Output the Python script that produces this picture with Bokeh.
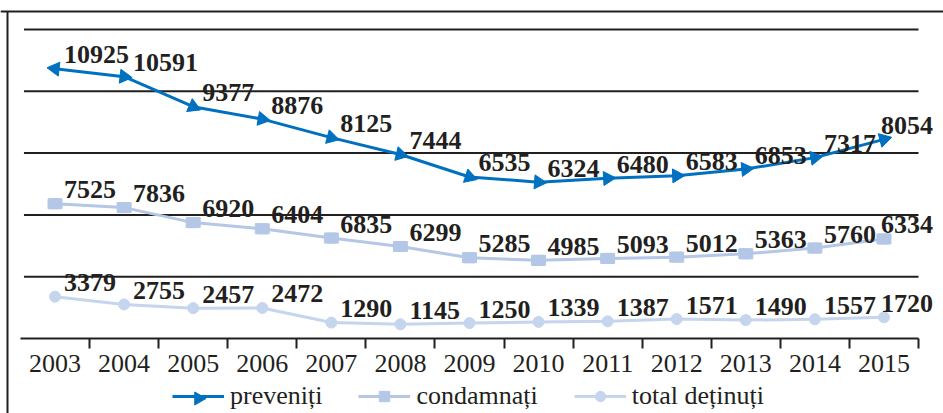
import math
from bokeh.plotting import figure
from bokeh.models import (LinearAxis, FixedTicker, Range1d, Span, Legend, LegendItem,
                          ColumnDataSource)
from bokeh.core.properties import value
from bokeh.embed import file_html
from bokeh.resources import INLINE

# ---------------- data ----------------
years = [2003, 2004, 2005, 2006, 2007, 2008, 2009, 2010, 2011, 2012, 2013, 2014, 2015]
preveniti = [10925, 10591, 9377, 8876, 8125, 7444, 6535, 6324, 6480, 6583, 6853, 7317, 8054]
condamnati = [7525, 7836, 6920, 6404, 6835, 6299, 5285, 4985, 5093, 5012, 5363, 5760, 6334]
total_detinuti = [3379, 2755, 2457, 2472, 1290, 1145, 1250, 1339, 1387, 1571, 1490, 1557, 1720]
grid_levels = [5000, 10000, 15000, 20000, 25000]
series_names = ["preveniți", "condamnați", "total deținuți"]

# stacked line chart: total at bottom, then condamnați, then preveniți
s_total = list(total_detinuti)
s_cond = [a + b for a, b in zip(s_total, condamnati)]
s_prev = [a + b for a, b in zip(s_cond, preveniti)]

# ---------------- layout ----------------
W, H = 943, 413
kx = 898 / 13.0            # px per year
ky = 309 / 25000.0         # px per unit
x_start = years[0] - 0.5 - 20 / kx
x_end = x_start + W / kx
y_start = -75 / ky
y_end = y_start + H / ky

INK = "#231f20"
BLUE = "#0070c0"
C_COND = "#b4c7e7"
C_TOT = "#c5d5ee"
FONT = "Liberation Serif"

p = figure(width=W, height=H, output_backend="svg", toolbar_location=None,
           x_axis_type=None, y_axis_type=None, min_border=0,
           x_range=Range1d(x_start, x_end), y_range=Range1d(y_start, y_end))
p.outline_line_color = None
p.grid.visible = False
p.background_fill_color = "white"
p.border_fill_color = "white"

# outer frame (left and top edges)
x_frame = x_start + 7 / kx
y_frame = y_end - 11 / ky
p.add_layout(Span(location=y_frame, dimension="width", line_color=INK, line_width=2))
p.segment(x0=[x_frame], y0=[y_frame], x1=[x_frame], y1=[y_start], line_color=INK, line_width=2)

# horizontal gridlines
n = len(grid_levels)
p.segment(x0=[years[0] - 0.45] * n, x1=[years[-1] + 0.5] * n, y0=grid_levels, y1=grid_levels,
          line_color=INK, line_width=2)

# x axis at value 0
boundaries = [y + 0.5 for y in years]
xaxis = LinearAxis(fixed_location=0, bounds=(years[0] - 0.5, years[-1] + 0.5),
                   ticker=FixedTicker(ticks=years, minor_ticks=boundaries))
xaxis.axis_line_color = INK
xaxis.axis_line_width = 2
xaxis.major_tick_out = 0
xaxis.major_tick_in = 0
xaxis.major_tick_line_color = None
xaxis.minor_tick_out = 10
xaxis.minor_tick_in = 0
xaxis.minor_tick_line_color = INK
xaxis.minor_tick_line_width = 2
xaxis.major_label_overrides = {y: str(y) for y in years}
xaxis.major_label_text_font = FONT
xaxis.major_label_text_font_size = "26px"
xaxis.major_label_text_color = INK
xaxis.major_label_standoff = 6
p.add_layout(xaxis, "below")

# series
r_tot_line = p.line(years, s_total, line_color=C_TOT, line_width=3)
r_tot_mk = p.scatter(years, s_total, marker="circle", size=11, fill_color=C_TOT, line_color=C_TOT)

r_cond_line = p.line(years, s_cond, line_color=C_COND, line_width=3)
p.rect(years, s_cond, width=14, height=10, width_units="screen", height_units="screen",
       fill_color=C_COND, line_color=C_COND)
r_cond_mk = p.scatter(years, s_cond, marker="square", size=10, fill_color=C_COND, line_color=C_COND)

# arrow heads oriented along the line direction (screen space)
angles = []
for i in range(len(years)):
    if i == 0:
        dx = -(years[1] - years[0]) * kx
        dy = -(s_prev[1] - s_prev[0]) * ky
    else:
        dx = (years[i] - years[i - 1]) * kx
        dy = (s_prev[i] - s_prev[i - 1]) * ky
    angles.append(math.atan2(dy, dx) - math.pi / 2)

r_prev_line = p.line(years, s_prev, line_color=BLUE, line_width=3)
p.scatter(x=years, y=s_prev, angle=angles, marker="triangle", size=14,
          fill_color=BLUE, line_color=BLUE)

# data labels (the last column is pulled back so it stays inside the chart)
x_offs = [9] * (len(years) - 1) + [-3]
for ys, vals in ((s_prev, preveniti), (s_cond, condamnati), (s_total, total_detinuti)):
    src = ColumnDataSource(dict(x=years, y=ys, t=[str(v) for v in vals], xo=x_offs))
    p.text(x="x", y="y", text="t", source=src, x_offset="xo", y_offset=-14,
           text_align="left", text_baseline="alphabetic",
           text_font=value(FONT), text_font_style="bold", text_font_size="26px",
           text_color=INK)

LEG_X, LEG_BOTTOM, GLYPH_W, GLYPH_H = 172, 2, 52, 26
legend = Legend(items=[
    LegendItem(label=series_names[0], renderers=[r_prev_line]),
    LegendItem(label=series_names[1], renderers=[r_cond_line, r_cond_mk]),
    LegendItem(label=series_names[2], renderers=[r_tot_line, r_tot_mk]),
], orientation="horizontal", location=(LEG_X, LEG_BOTTOM))
legend.glyph_width = GLYPH_W
legend.glyph_height = GLYPH_H
legend.label_height = GLYPH_H
legend.label_standoff = 6
legend.spacing = 36
legend.padding = 0
legend.margin = 0
legend.border_line_color = None
legend.background_fill_alpha = 0
legend.label_text_font = FONT
legend.label_text_font_size = "26px"
legend.label_text_color = INK
p.add_layout(legend)

# arrow head of the legend's first key (legend keys do not rotate markers)
key_x = x_start + (LEG_X + GLYPH_W / 2) / kx
key_y = y_start + (LEG_BOTTOM + GLYPH_H / 2) / ky
p.scatter(x=[key_x], y=[key_y], angle=-math.pi / 2, marker="triangle", size=13,
          fill_color=BLUE, line_color=BLUE)

open("out.html", "w").write(file_html(p, INLINE))
